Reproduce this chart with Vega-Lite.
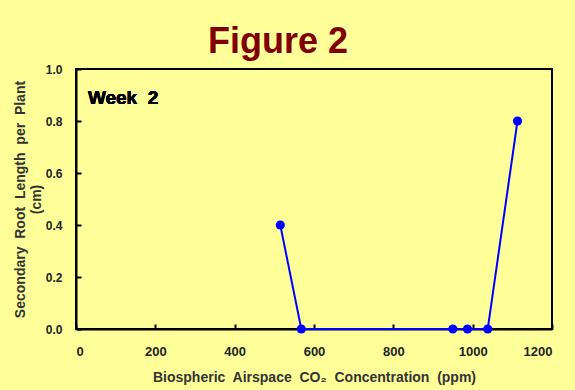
{
  "$schema": "https://vega.github.io/schema/vega-lite/v6.json",
  "autosize": {"type": "none"},
  "padding": {"left": 76, "top": 69, "right": 23, "bottom": 61},
  "width": 476,
  "height": 260,
  "background": "#FFFF99",
  "title": {"text": "Figure 2", "font": "Liberation Sans", "fontSize": 36, "fontWeight": "bold", "color": "#800000", "anchor": "middle", "dx": -36, "offset": 2},
  "config": {
    "view": {"stroke": "black", "strokeWidth": 2, "fill": "#FFFF99"},
    "axis": {"grid": false, "domainColor": "black", "domainWidth": 2, "tickColor": "black", "tickWidth": 2, "tickSize": -5, "labelFont": "Liberation Sans", "labelFontWeight": "bold", "labelFontSize": 12, "labelColor": "#222", "titleFont": "Liberation Sans", "titleFontWeight": "bold", "titleFontSize": 14, "titleColor": "#333"}
  },
  "data": {"values": [
    {"co2": 515, "len": 0.4},
    {"co2": 568, "len": 0.0},
    {"co2": 950, "len": 0.0},
    {"co2": 987, "len": 0.0},
    {"co2": 1038, "len": 0.0},
    {"co2": 1113, "len": 0.8}
  ]},
  "layer": [
    {
      "mark": {"type": "line", "color": "#0000FF", "strokeWidth": 2},
      "encoding": {
        "x": {"field": "co2", "type": "quantitative", "scale": {"domain": [0, 1200], "nice": false}, "axis": {"values": [0, 200, 400, 600, 800, 1000, 1200], "format": "d", "labelFontSize": 13, "title": "Biospheric\u00a0 Airspace\u00a0 CO₂\u00a0 Concentration\u00a0 (ppm)", "labelPadding": 21, "titlePadding": 12}},
        "y": {"field": "len", "type": "quantitative", "scale": {"domain": [0, 1], "nice": false}, "axis": {"values": [0, 0.2, 0.4, 0.6, 0.8, 1.0], "format": ".1f", "title": ["Secondary\u00a0 Root\u00a0 Length\u00a0 per\u00a0 Plant", "(cm)"], "labelPadding": 19, "titlePadding": 2}}
      }
    },
    {
      "mark": {"type": "point", "filled": true, "color": "#0000FF", "size": 85, "opacity": 1},
      "encoding": {
        "x": {"field": "co2", "type": "quantitative"},
        "y": {"field": "len", "type": "quantitative"}
      }
    },
    {
      "mark": {"type": "text", "text": "Week\u00a0 2", "font": "Liberation Sans", "fontSize": 19, "fontWeight": "bold", "align": "left", "baseline": "middle", "fill": "black"},
      "encoding": {
        "x": {"datum": 30, "type": "quantitative"},
        "y": {"datum": 0.887, "type": "quantitative"}
      }
    }
  ]
}
